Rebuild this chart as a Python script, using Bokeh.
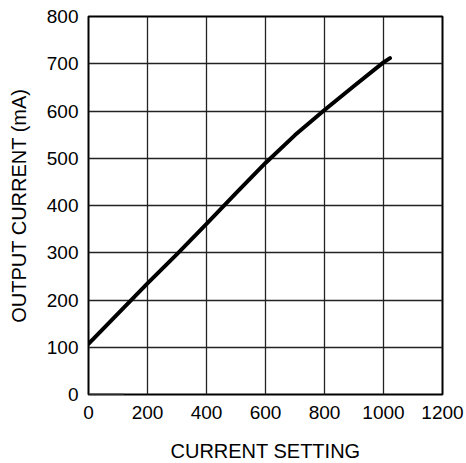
from bokeh.plotting import figure
from bokeh.models import Range1d, FixedTicker
from bokeh.embed import file_html
from bokeh.resources import INLINE

# Output current vs. current setting
setting = [0, 100, 200, 300, 400, 500, 600, 700, 800, 900, 1000, 1022]
output_ma = [107, 171, 235, 297, 361, 426, 490, 549, 602, 653, 703, 712]

# short trace along the zero line
zero_x = [0, 120]
zero_y = [0, 0]

x_ticks = [0, 200, 400, 600, 800, 1000, 1200]
y_ticks = [0, 100, 200, 300, 400, 500, 600, 700, 800]

FONT = "Liberation Sans"

p = figure(
    frame_width=354, frame_height=378,
    min_border_left=88, min_border_right=24,
    min_border_top=16, min_border_bottom=69,
    x_range=Range1d(0, 1200), y_range=Range1d(0, 800),
    output_backend="svg", toolbar_location=None,
)
p.background_fill_color = "white"
p.border_fill_color = "white"
p.outline_line_color = "black"
p.outline_line_width = 2

for ax in (p.xaxis[0], p.yaxis[0]):
    ax.axis_line_color = None
    ax.major_tick_out = 0
    ax.major_tick_in = 0
    ax.minor_tick_line_color = None
    ax.major_label_text_font = FONT
    ax.major_label_text_font_size = "19px"
    ax.major_label_text_color = "black"
    ax.axis_label_text_font = FONT
    ax.axis_label_text_font_size = "20px"
    ax.axis_label_text_font_style = "normal"
    ax.axis_label_text_color = "black"

p.xaxis.ticker = FixedTicker(ticks=x_ticks)
p.yaxis.ticker = FixedTicker(ticks=y_ticks)
p.xaxis.axis_label = "CURRENT SETTING"
p.yaxis.axis_label = "OUTPUT CURRENT (mA)"
p.xaxis.major_label_standoff = 11
p.yaxis.major_label_standoff = 10
p.xaxis.axis_label_standoff = 18
p.yaxis.axis_label_standoff = 14

for g, t in ((p.xgrid[0], x_ticks), (p.ygrid[0], y_ticks)):
    g.ticker = FixedTicker(ticks=t)
    g.grid_line_color = "#222222"
    g.grid_line_width = 1.3
    g.grid_line_alpha = 1.0

p.line(zero_x, zero_y, line_color="#555555", line_width=2)
p.line(setting, output_ma, line_color="black", line_width=4,
       line_join="round", line_cap="round")

open("out.html", "w").write(file_html(p, INLINE))
